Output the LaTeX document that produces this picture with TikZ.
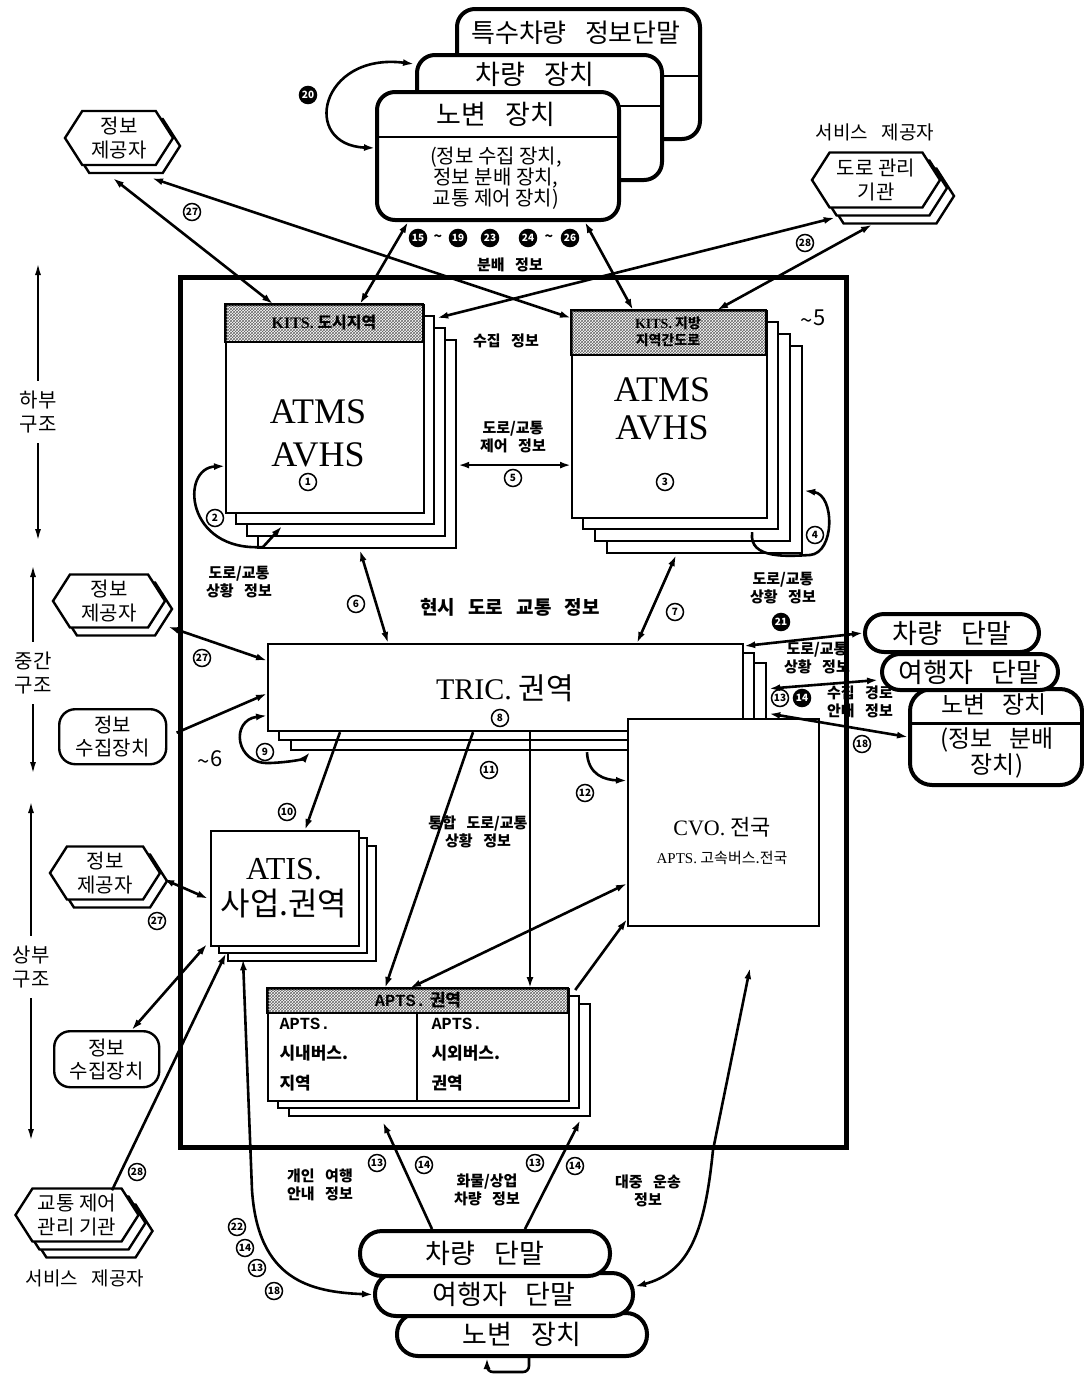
\documentclass[tikz,border=0pt]{standalone}
\usepackage{fontspec}
\setmainfont{Noto Sans CJK KR}
\newfontfamily\lat{Liberation Serif}
\newfontfamily\mono{Liberation Mono}
\usetikzlibrary{arrows.meta,patterns,calc}

\tikzset{
    conn/.style={line width=2.6pt, -{Latex[length=11pt,width=7pt]}},
    dconn/.style={line width=2.6pt, {Latex[length=11pt,width=7pt]}-{Latex[length=11pt,width=7pt]}},
    axis/.style={line width=2pt, -{Latex[length=12pt,width=6pt]}},
    stack/.style={draw, line width=2.2pt, fill=white},
    head/.style={draw, line width=2.2pt, pattern=crosshatch, pattern color=black!60},
    dev/.style={draw, line width=4pt, fill=white, rounded corners=18pt},
    pill/.style={draw, line width=4pt, fill=white},
    inbox/.style={draw, line width=2.4pt, fill=white, rounded corners=16pt, align=center, font=\fontsize{20}{23}\selectfont},
    hexline/.style={line width=2.4pt, fill=white},
    hextext/.style={font=\fontsize{20}{24}\selectfont, align=center, inner sep=0pt},
    num/.style={circle, draw, line width=1.5pt, inner sep=0pt, minimum size=17pt, font=\fontsize{10}{10}\selectfont\bfseries},
    numb/.style={num, fill=black, text=white},
    lbl/.style={font=\fontsize{15}{18}\selectfont\bfseries, align=center}
}

\newcommand{\gap}{\hspace{0.7em}}
\newcommand{\tld}{\raisebox{-3pt}{\textasciitilde}}
% hexagon with shadow layers: name, x, y, width, height, layers, text
\newcommand{\hexbox}[7]{%
    \foreach \s in {#6}{%
        \draw[hexline] ({#2-#4/2+7*\s},{#3+8*\s}) -- ++({0.32*#5},{-#5/2}) -- ++({#4-0.64*#5},0)
            -- ++({0.32*#5},{#5/2}) -- ++({-0.32*#5},{#5/2}) -- ++({-#4+0.64*#5},0) -- cycle;
    }
    \node[hextext, minimum width=#4pt, minimum height=#5pt] (#1) at (#2,#3) {#7};
}

\begin{document}
\begin{tikzpicture}[x=1pt, y=-1pt]
\useasboundingbox (0,0) rectangle (1084,1374);

% outer frame
\draw[line width=5pt] (180,277) rectangle (846,1147);

% side axis
\node[hextext] (ax1) at (38,412) {하부\\구조};
\draw[axis, shorten <=10pt] (ax1.north) -- (ax1.north |- 0,263);
\draw[axis, shorten <=10pt] (ax1.south) -- (ax1.south |- 0,541);
\node[hextext] (ax2) at (33,673) {중간\\구조};
\draw[axis, shorten <=10pt] (ax2.north) -- (ax2.north |- 0,565);
\draw[axis, shorten <=10pt] (ax2.south) -- (ax2.south |- 0,774);
\node[hextext] (ax3) at (31,967) {상부\\구조};
\draw[axis, shorten <=10pt] (ax3.north) -- (ax3.north |- 0,801);
\draw[axis, shorten <=10pt] (ax3.south) -- (ax3.south |- 0,1141);

% roadside device stack
\node[dev, minimum width=243pt, minimum height=130pt, anchor=north west] (spec) at (455,7) {};
\draw[line width=2pt] (455,76) -- (698,76);
\node[font=\fontsize{26}{30}\selectfont] (spectxt) at (576,33) {특수차량\gap 정보단말};
\node[dev, minimum width=245pt, minimum height=125pt, anchor=north west] (veh) at (415,53) {};
\draw[line width=2pt] (415,106) -- (660,106);
\node[font=\fontsize{27}{30}\selectfont] (vehtxt) at (535,74) {차량\gap 장치};
\node[dev, minimum width=242pt, minimum height=128pt, anchor=north west] (rse) at (375,90) {};
\draw[line width=2.5pt] (375,137) -- (617,137);
\node[font=\fontsize{27}{30}\selectfont] (rsetxt) at (496,114) {노변\gap 장치};
\node[font=\fontsize{20}{21}\selectfont, align=center] (rsesub) at (496,178) {(정보 수집 장치,\\ 정보 분배 장치,\\ 교통 제어 장치)};
\draw[dconn] ($(veh.north west)+(-1,11)$) .. controls (320,52) and (300,145) .. ($(rse.west)+(0,-8)$);
\node[numb] (n20) at (308,95) {20};

% providers
\hexbox{hexTL}{119}{138}{108}{54}{1,0}{정보\\제공자}
\hexbox{hexTR}{876}{180}{128}{55}{2,1,0}{도로 관리\\기관}
\node[font=\fontsize{19}{21}\selectfont] (svcT) at (875,132) {서비스\gap 제공자};
\hexbox{hexML}{109}{601}{112}{53}{1,0}{정보\\제공자}
\hexbox{hexLL}{105}{873}{110}{53}{1,0}{정보\\제공자}
\hexbox{hexBL}{77}{1215}{123}{53}{2,1,0}{교통 제어\\관리 기관}
\node[font=\fontsize{19}{21}\selectfont] (svcB) at (85,1278) {서비스\gap 제공자};
\node[inbox, minimum width=107pt, minimum height=55pt, anchor=north west] (colA) at (58,708) {정보\\수집장치};
\node[inbox, minimum width=105pt, minimum height=56pt, anchor=north west] (colB) at (53,1030) {정보\\수집장치};

% ATMS stacks
\foreach \k in {3,2,1}
    \draw[stack] ({225+11*\k},{304+12*\k}) rectangle ++(198,208);
\node[stack, minimum width=198pt, minimum height=208pt, anchor=north west] (atmsA) at (225,304) {};
\draw[head] (225,304) rectangle (423,342);
\node[font=\fontsize{16}{18}\selectfont\bfseries] (kitsA) at (324,323) {{\lat KITS.} 도시지역};
\node[font=\fontsize{36}{43}\selectfont\lat, align=center] (atmsAtxt) at (318,433) {ATMS\\AVHS};
\node[num] (n1) at (308,482) {1};

\foreach \k in {3,2,1}
    \draw[stack] ({571+12*\k},{310+12*\k}) rectangle ++(195,207);
\node[stack, minimum width=195pt, minimum height=207pt, anchor=north west] (atmsB) at (571,310) {};
\draw[head] (571,310) rectangle (766,355);
\node[font=\fontsize{14}{17}\selectfont\bfseries, align=center] (kitsB) at (668,332) {{\lat KITS.} 지방\\지역간도로};
\node[font=\fontsize{36}{38}\selectfont\lat, align=center] (atmsBtxt) at (662,409) {ATMS\\AVHS};
\node[num] (n3) at (665,482) {3};
\node[font=\fontsize{22}{22}\selectfont] (til5) at (813,319) {\tld 5};

% TRIC, CVO
\foreach \k in {2,1}
    \draw[stack] ({267+12*\k},{643+10*\k}) rectangle ++(475,87);
\node[stack, minimum width=475pt, minimum height=87pt, anchor=north west] (tric) at (267,643) {};
\node[font=\fontsize{30}{30}\selectfont] (trictxt) at (505,688) {{\lat TRIC.} 권역};
\node[num] (n8) at (500,718) {8};
\node[font=\fontsize{22}{22}\selectfont] (til6) at (210,760) {\tld 6};

\node[stack, minimum width=191pt, minimum height=207pt, anchor=north west] (cvo) at (627,718) {};
\node[font=\fontsize{22}{22}\selectfont] (cvotxt) at (722,827) {{\lat CVO.} 전국};
\node[font=\fontsize{15}{15}\selectfont] (cvosub) at (722,858) {{\lat APTS.} 고속버스.전국};

% ATIS, APTS
\foreach \k in {2,1}
    \draw[stack] ({210+9*\k},{830+8*\k}) rectangle ++(148,115);
\node[stack, minimum width=148pt, minimum height=115pt, anchor=north west] (atis) at (210,830) {};
\node[font=\fontsize{32}{36}\selectfont, align=center] (atistxt) at (284,888) {{\lat ATIS.}\\사업.권역};

\foreach \k in {2,1}
    \draw[stack] ({267+11*\k},{988+8*\k}) rectangle ++(301,112);
\node[stack, minimum width=301pt, minimum height=112pt, anchor=north west] (apts) at (267,988) {};
\draw[head] (267,988) rectangle (568,1013);
\draw[line width=2.2pt] (417,1013) -- (417,1100);
\node[font=\fontsize{17}{17}\selectfont\bfseries] (aptshead) at (418,1000) {{\mono APTS.} 권역};
\node[font=\fontsize{17}{30}\selectfont\bfseries, align=left, anchor=north west] (aptsL) at (276,1015) {{\mono APTS.}\\시내버스.\\지역};
\node[font=\fontsize{17}{30}\selectfont\bfseries, align=left, anchor=north west] (aptsR) at (428,1015) {{\mono APTS.}\\시외버스.\\권역};

% terminals
\node[pill, rounded corners=22pt, minimum width=172pt, minimum height=96pt, anchor=north west] (rRse) at (908,687) {};
\draw[line width=3pt] (908,723) -- (1080,723);
\node[font=\fontsize{24}{26}\selectfont] (rRsetxt) at (994,705) {노변\gap 장치};
\node[font=\fontsize{24}{24}\selectfont, align=center] (rRsesub) at (997,753) {(정보\gap 분배\\장치)};
\node[pill, rounded corners=18pt, minimum width=176pt, minimum height=36pt, anchor=north west, font=\fontsize{27}{27}\selectfont] (rTrav) at (880,652) {여행자\gap 단말};
\node[pill, rounded corners=19pt, minimum width=174pt, minimum height=38pt, anchor=north west, font=\fontsize{27}{27}\selectfont] (rCar) at (863,612) {차량\gap 단말};

\node[pill, rounded corners=21pt, minimum width=250pt, minimum height=43pt, anchor=north west, font=\fontsize{27}{27}\selectfont] (bRse) at (395,1311) {노변\gap 장치};
\node[pill, rounded corners=21pt, minimum width=258pt, minimum height=43pt, anchor=north west, font=\fontsize{27}{27}\selectfont] (bTrav) at (373,1271) {여행자\gap 단말};
\node[pill, rounded corners=22pt, minimum width=250pt, minimum height=45pt, anchor=north west, font=\fontsize{27}{27}\selectfont] (bCar) at (358,1229) {차량\gap 단말};

% top connectors
\draw[dconn] ($(hexTL.south)+(-6,13)$) -- ($(atmsA.north west)+(48,0)$);
\draw[dconn] ($(hexTL.south)+(33,13)$) -- ($(atmsB.north west)+(0,8)$);
\node[num] (n27a) at (192,212) {27};
\draw[dconn] ($(rse.south west)+(33,0)$) -- ($(atmsA.north west)+(135,0)$);
\draw[dconn] ($(rse.south west)+(210,0)$) -- ($(atmsB.north west)+(62,0)$);
\draw[dconn] ($(atmsA.north east)+(12,14)$) -- ($(hexTR.south west)+(23,10)$);
\draw[dconn] ($(atmsB.north west)+(146,0)$) -- ($(hexTR.south)+(-4,17)$);
\node[num] (n28a) at (805,243) {28};
\node[numb] (n15) at (418,238) {15};
\node[font=\fontsize{14}{14}\selectfont\bfseries] (tl1) at (438,238) {\textasciitilde};
\node[numb] (n19) at (458,238) {19};
\node[numb] (n23) at (490,238) {23};
\node[numb] (n24) at (528,238) {24};
\node[font=\fontsize{14}{14}\selectfont\bfseries] (tl2) at (549,238) {\textasciitilde};
\node[numb] (n26) at (570,238) {26};
\node[lbl] (ldis) at (510,265) {분배\gap 정보};
\node[lbl] (lcol) at (506,341) {수집\gap 정보};

% ATMS loops and links
\draw[dconn] ($(atmsA.south west)+(57,12)$) -- (263,547) .. controls (185,552) and (180,468) .. ($(atmsA.west)+(0,57)$);
\node[num] (n2) at (215,518) {2};
\draw[conn] ($(atmsB.south east)+(-16,13)$) .. controls (748,560) and (790,556) .. (810,555) .. controls (835,553) and (835,495) .. ($(atmsB.east)+(36,76)$);
\node[num] (n4) at (815,535) {4};
\draw[dconn] ($(atmsA.east)+(33,56)$) -- ($(atmsB.west)+(0,50.5)$);
\node[lbl] (l5) at (513,437) {도로/교통\\제어\gap 정보};
\node[num] (n5) at (513,478) {5};
\draw[dconn] ($(atmsA.south west)+(135,36)$) -- ($(tric.north west)+(121,0)$);
\draw[dconn] ($(atmsB.south west)+(105,36)$) -- ($(tric.north west)+(370,0)$);
\node[num] (n6) at (356,604) {6};
\node[num] (n7) at (675,612) {7};
\node[lbl] (lstA) at (239,582) {도로/교통\\상황\gap 정보};
\node[lbl] (lstB) at (783,588) {도로/교통\\상황\gap 정보};
\node[font=\fontsize{19}{20}\selectfont\bfseries] (lnow) at (510,607) {현시\gap 도로\gap 교통\gap 정보};

% middle connectors
\draw[dconn] ($(hexML.south east)+(3,-1)$) -- ($(tric.west)+(0,-27)$);
\node[num] (n27b) at (202,658) {27};
\draw[conn, shorten <=10pt] (colA.east) -- ($(tric.west)+(0,6)$);
\draw[dconn] ($(tric.west)+(0,28)$) .. controls (230,720) and (235,765) .. (270,763) .. controls (295,762) and (305,758) .. ($(tric.south west)+(43,20)$);
\node[num] (n9) at (265,752) {9};
\draw[dconn] (rCar.west) -- ($(tric.north east)+(0,3)$);
\node[numb] (n21) at (781,622) {21};
\node[lbl] (lstC) at (817,658) {도로/교통\\상황\gap 정보};
\draw[dconn] ($(rTrav.west)+(-2,8)$) -- ($(tric.east)+(25,1)$);
\node[num] (n13a) at (780,698) {13};
\node[numb] (n14a) at (802,698) {14};
\node[lbl] (lroute) at (860,702) {수집\gap 경로\\안내\gap 정보};
\draw[dconn] ($(tric.east)+(25,26)$) -- (rRse.west);
\node[num] (n18a) at (862,744) {18};

% lower connectors
\draw[conn] ($(tric.south west)+(73,0)$) -- ($(atis.north west)+(95,0)$);
\node[num] (n10) at (287,812) {10};
\draw[conn] ($(tric.south west)+(206,0)$) -- ($(apts.north west)+(118,0)$);
\node[num] (n11) at (489,770) {11};
\draw[conn] ($(tric.south west)+(263,0)$) -- ($(apts.north west)+(263,0)$);
\draw[conn] ($(tric.south west)+(320,20)$) .. controls (588,775) and (605,780) .. ($(cvo.west)+(0,-42)$);
\node[num] (n12) at (585,793) {12};
\node[lbl] (lint) at (478,832) {통합\gap 도로/교통\\상황\gap 정보};
\draw[dconn] ($(apts.north west)+(143,0)$) -- ($(cvo.west)+(0,61)$);
\draw[conn] ($(apts.north east)+(5,2)$) -- ($(cvo.south west)+(0,-8)$);
\draw[dconn] ($(hexLL.east)+(3,6)$) -- ($(atis.west)+(-2,10)$);
\node[num] (n27c) at (157,921) {27};
\draw[dconn] ($(colB.north)+(25,0)$) -- ($(atis.south west)+(-3,-3)$);
\draw[conn] ($(hexBL.north)+(35,2)$) -- ($(atis.south west)+(16,6)$);
\node[num] (n28b) at (137,1172) {28};
\draw[dconn] ($(atis.south west)+(33,12)$) -- (252,1190) .. controls (258,1280) and (310,1292) .. (bTrav.west);
\node[num] (n22) at (237,1227) {22};
\node[num] (n14b) at (245,1248) {14};
\node[num] (n13b) at (257,1268) {13};
\node[num] (n18b) at (274,1291) {18};

% bottom connectors
\draw[conn] ($(bCar.north west)+(74,0)$) -- ($(apts.south west)+(116,20)$);
\draw[conn] ($(bCar.north west)+(167,0)$) -- ($(apts.south east)+(10,18)$);
\coordinate (pub) at (750,968);
\draw[dconn] ($(bTrav.east)+(0,-8)$) .. controls (690,1272) and (705,1230) .. (713,1150) -- (pub);
\draw[conn, rounded corners=6pt] ($(bRse.south)+(7,0)$) -- ++(0,14) -- ++(-42,0) -- ++(0,-14);
\node[lbl] (lpers) at (320,1185) {개인\gap 여행\\안내\gap 정보};
\node[num] (n13c) at (377,1163) {13};
\node[num] (n14c) at (424,1165) {14};
\node[lbl] (lfrt) at (487,1190) {화물/상업\\차량\gap 정보};
\node[num] (n13d) at (535,1163) {13};
\node[num] (n14d) at (575,1166) {14};
\node[lbl] (lpub) at (648,1191) {대중\gap 운송\\정보};
\end{tikzpicture}
\end{document}
